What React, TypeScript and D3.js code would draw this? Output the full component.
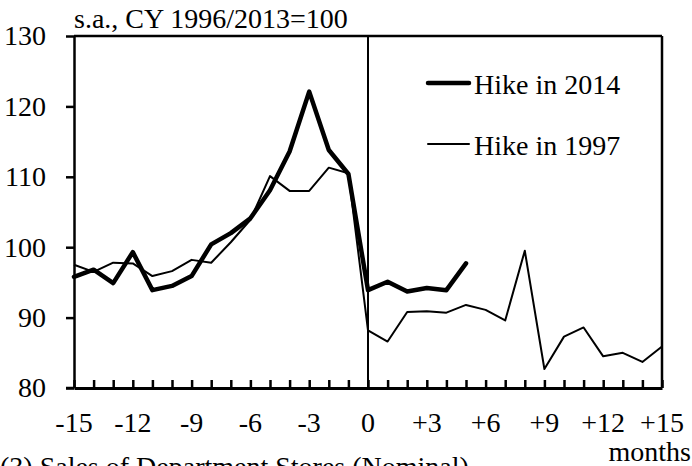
import React, { useEffect, useRef } from 'react';
import * as d3 from 'd3';

// months relative to the tax hike
const months = [-15, -14, -13, -12, -11, -10, -9, -8, -7, -6, -5, -4, -3, -2, -1, 0, 1, 2, 3, 4, 5, 6, 7, 8, 9, 10, 11, 12, 13, 14, 15];
const hike2014 = [95.8, 96.8, 94.9, 99.3, 93.9, 94.5, 95.9, 100.4, 102.0, 104.1, 108.1, 113.6, 122.1, 113.8, 110.4, 93.9, 95.1, 93.7, 94.2, 93.9, 97.7];
const hike1997 = [97.5, 96.5, 97.8, 97.7, 95.9, 96.6, 98.2, 97.8, 100.7, 103.9, 110.1, 108.0, 108.0, 111.3, 110.5, 88.2, 86.6, 90.8, 90.9, 90.7, 91.8, 91.1, 89.6, 99.5, 82.7, 87.3, 88.6, 84.5, 85.0, 83.7, 85.9];
const yTicks = [80, 90, 100, 110, 120, 130];
const xTickLabels = [-15, -12, -9, -6, -3, 0, 3, 6, 9, 12, 15];
const seriesNames = ['Hike in 2014', 'Hike in 1997'];

const W = 692;
const H = 466;
const margin = { top: 36, right: 30, bottom: 78, left: 74 };
const FONT = '"Liberation Serif", "Times New Roman", serif';
const FS = 28;

export default function App() {
    const ref = useRef<SVGSVGElement>(null);

    useEffect(() => {
        const svg = d3.select(ref.current);
        svg.selectAll('*').remove();

        const x = d3.scaleLinear().domain([-15, 15]).range([margin.left, W - margin.right]);
        const y = d3.scaleLinear().domain([80, 130]).range([H - margin.bottom, margin.top]);

        const g = svg.append('g').attr('font-family', FONT).attr('font-size', FS).attr('fill', '#000');

        // frame: top + right border
        g.append('line')
            .attr('x1', x(-15)).attr('x2', x(15))
            .attr('y1', y(130)).attr('y2', y(130))
            .attr('stroke', '#000').attr('stroke-width', 2.5);
        g.append('line')
            .attr('x1', x(15)).attr('x2', x(15))
            .attr('y1', y(130)).attr('y2', y(80))
            .attr('stroke', '#000').attr('stroke-width', 2.5);

        // vertical line at month 0
        g.append('line')
            .attr('x1', x(0)).attr('x2', x(0))
            .attr('y1', y(130)).attr('y2', y(80))
            .attr('stroke', '#000').attr('stroke-width', 2);

        // y axis
        const yAxis = d3.axisLeft(y).tickValues(yTicks).tickSize(8).tickPadding(20).tickSizeOuter(0);
        const ya = g.append('g').attr('transform', `translate(${x(-15)},0)`).call(yAxis);
        ya.select('path').attr('stroke-width', 2.5);
        ya.selectAll('line').attr('stroke-width', 2.5);
        ya.selectAll('text').attr('font-family', FONT).attr('font-size', FS).attr('fill', '#000');

        // x axis, ticks pointing inward
        const xAxis = d3.axisBottom(x).tickValues(months).tickSize(-8).tickSizeOuter(0).tickFormat(() => '');
        const xa = g.append('g').attr('transform', `translate(0,${y(80)})`).call(xAxis);
        xa.select('path').attr('stroke-width', 3);
        xa.selectAll('line').attr('stroke-width', 2.5);
        // extend axis line left to meet y tick
        g.append('line')
            .attr('x1', x(-15) - 8).attr('x2', x(-15))
            .attr('y1', y(80)).attr('y2', y(80))
            .attr('stroke', '#000').attr('stroke-width', 2.5);

        g.append('g').selectAll('text')
            .data(xTickLabels)
            .enter()
            .append('text')
            .attr('x', d => x(d))
            .attr('y', y(80) + 44)
            .attr('text-anchor', 'middle')
            .text(d => (d > 0 ? '+' + d : String(d)));

        // lines
        const line = d3.line<number>()
            .x((d, i) => x(months[i]))
            .y(d => y(d));

        g.append('path')
            .datum(hike1997)
            .attr('d', line)
            .attr('fill', 'none')
            .attr('stroke', '#000')
            .attr('stroke-width', 2)
            .attr('stroke-linejoin', 'round');

        g.append('path')
            .datum(hike2014)
            .attr('d', line)
            .attr('fill', 'none')
            .attr('stroke', '#000')
            .attr('stroke-width', 4.5)
            .attr('stroke-linejoin', 'round')
            .attr('stroke-linecap', 'round');

        // legend
        const legendY = [83, 144];
        const widths = [4.5, 2];
        seriesNames.forEach((name, i) => {
            g.append('line')
                .attr('x1', 428).attr('x2', 469)
                .attr('y1', legendY[i]).attr('y2', legendY[i])
                .attr('stroke', '#000').attr('stroke-width', widths[i])
                .attr('stroke-linecap', 'round');
            g.append('text')
                .attr('x', 474)
                .attr('y', legendY[i] + 11)
                .text(name);
        });

        // title / unit labels
        g.append('text').attr('x', x(-15)).attr('y', 28).text('s.a., CY 1996/2013=100');
        g.append('text').attr('x', 691).attr('y', 461).attr('text-anchor', 'end').text('months');
        g.append('text').attr('x', 0).attr('y', 476).text('(3) Sales of Department Stores (Nominal)');
    }, []);

    return (
        <svg ref={ref} width={W} height={H}
            style={{ position: 'absolute', left: 0, top: 0, background: '#fff' }} />
    );
}
